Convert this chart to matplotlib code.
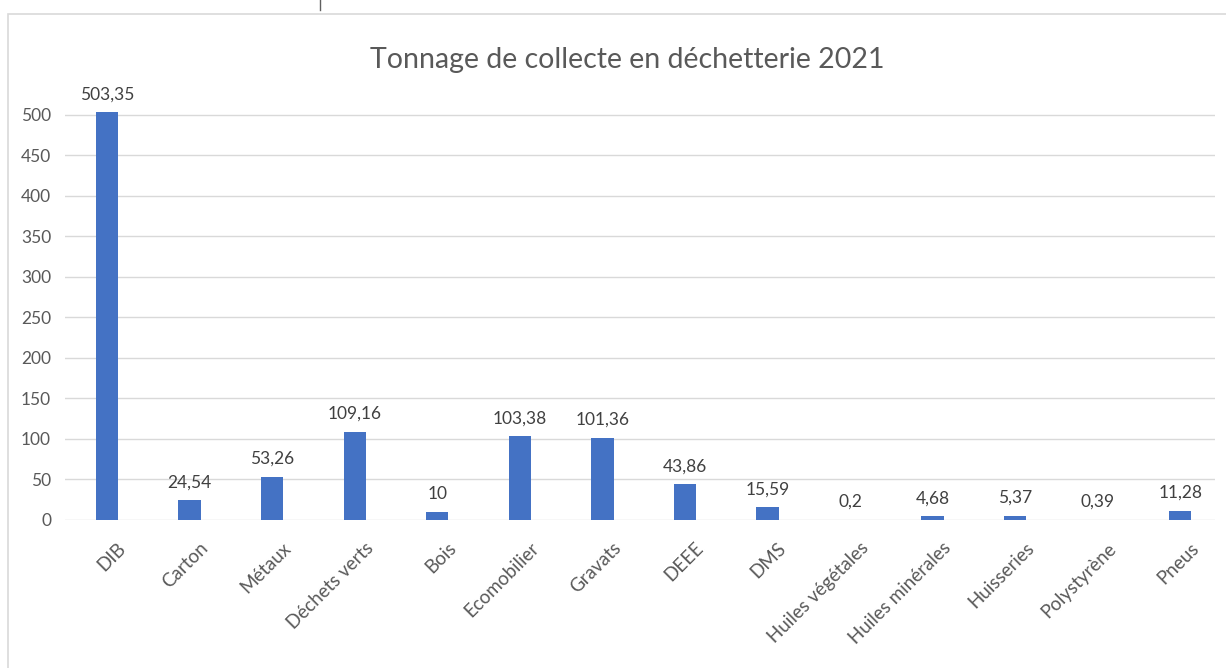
import matplotlib.pyplot as plt
import matplotlib.transforms as mtransforms
from matplotlib.patches import Rectangle
from matplotlib.lines import Line2D

plt.rcParams['font.family'] = ['Lato', 'DejaVu Sans']

categories = ['DIB', 'Carton', 'Métaux', 'Déchets verts', 'Bois', 'Ecomobilier',
              'Gravats', 'DEEE', 'DMS', 'Huiles végétales', 'Huiles minérales',
              'Huisseries', 'Polystyrène', 'Pneus']
tonnage = [503.35, 24.54, 53.26, 109.16, 10, 103.38, 101.36, 43.86, 15.59,
           0.2, 4.68, 5.37, 0.39, 11.28]
yticks = list(range(0, 501, 50))

txt = '#595959'
fig = plt.figure(figsize=(12.26, 6.68), dpi=100)
ax = fig.add_axes([0.053, 0.2216, 0.938, 0.655])

x = range(len(categories))
bars = ax.bar(x, tonnage, width=0.27, color='#4472C4', zorder=3)
for b, v in zip(bars, tonnage):
    ax.annotate(f'{v:g}'.replace('.', ','), (b.get_x() + b.get_width() / 2, v),
                xytext=(0, 7), textcoords='offset points', ha='center', va='bottom',
                fontsize=12.5, color='#404040')

ax.set_xlim(-0.51, len(categories) - 0.58)
ax.set_ylim(0, 540)
ax.set_yticks(yticks)
ax.set_yticklabels([str(t) for t in yticks], fontsize=12.5, color=txt)
ax.set_xticks(list(x))
ax.set_xticklabels(categories, rotation=45, ha='right', rotation_mode='anchor',
                   fontsize=13.5, color=txt)
ax.tick_params(axis='x', length=0, pad=14)
ax.tick_params(axis='y', length=0, pad=10)
shift = mtransforms.ScaledTranslation(10 / 100, 0, fig.dpi_scale_trans)
for lab in ax.get_xticklabels():
    lab.set_transform(lab.get_transform() + shift)
ax.grid(axis='y', color='#d9d9d9', linewidth=1, zorder=0)
for s in ax.spines.values():
    s.set_visible(False)

fig.text(0.512, 0.91, 'Tonnage de collecte en déchetterie 2021', ha='center',
         va='center', fontsize=20.5, color=txt)

# outer chart border (left and top edges visible)
fig.add_artist(Rectangle((8 / 1226, -0.2), 1.2, 1.2 - 14 / 668, transform=fig.transFigure,
                         fill=False, edgecolor='#d9d9d9', linewidth=1.2))
fig.add_artist(Line2D([320 / 1226, 320 / 1226], [1, 1 - 10 / 668], transform=fig.transFigure,
                      color='#606060', linewidth=1))

fig.savefig('out.png', dpi=100)
